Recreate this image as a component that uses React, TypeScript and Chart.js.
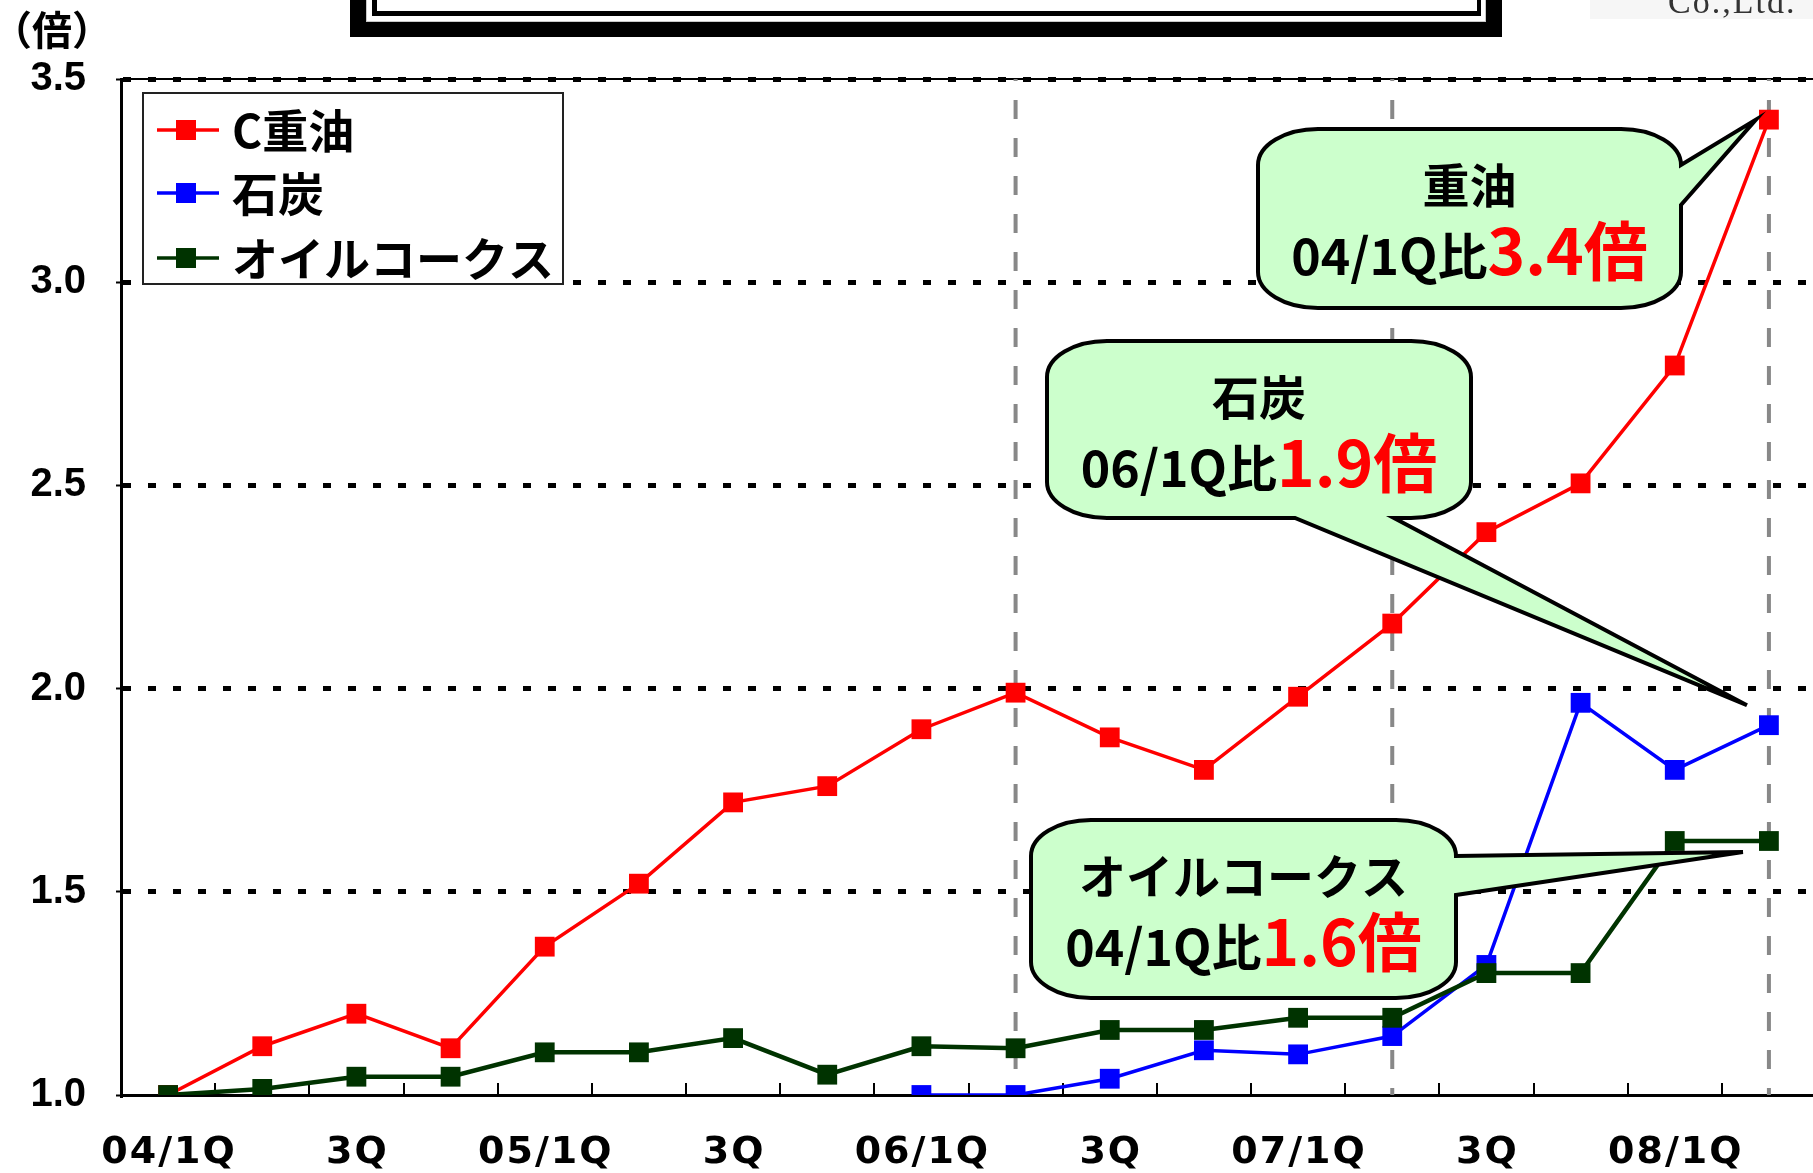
import React, { useEffect, useRef } from 'react';
import { Chart, registerables } from 'chart.js';

Chart.register(...registerables);

// ---------- data ----------
const categories = ['04/1Q', '2Q', '3Q', '4Q', '05/1Q', '2Q', '3Q', '4Q', '06/1Q', '2Q', '3Q', '4Q', '07/1Q', '2Q', '3Q', '4Q', '08/1Q', '2Q'];
const heavyOil = [1.0, 1.12, 1.2, 1.115, 1.365, 1.52, 1.72, 1.76, 1.9, 1.99, 1.88, 1.8, 1.98, 2.16, 2.385, 2.505, 2.795, 3.4];
const coal = [null, null, null, null, null, null, null, null, 1.0, 1.0, 1.04, 1.11, 1.1, 1.145, 1.32, 1.965, 1.8, 1.91];
const oilCoke = [1.0, 1.015, 1.045, 1.045, 1.105, 1.105, 1.14, 1.05, 1.12, 1.115, 1.16, 1.16, 1.19, 1.19, 1.3, 1.3, 1.625, 1.625];
const seriesNames = ['C重油', '石炭', 'オイルコークス'];
const seriesColors = ['#FF0000', '#0000FF', '#003300'];
const yMin = 1.0;
const yMax = 3.5;
const yStep = 0.5;
const dividerIndices = [9, 13, 17];
const unitLabel = '（倍）';
const calloutTitles = ['重油', '石炭', 'オイルコークス'];
const calloutBases = ['04/1Q比', '06/1Q比', '04/1Q比'];
const calloutRatios = ['3.4倍', '1.9倍', '1.6倍'];
const companyText = 'Co.,Ltd.';

// ---------- layout / style (not data) ----------
const CJK = '"Noto Sans CJK JP", "Noto Sans CJK SC", sans-serif';
const calloutBoxes = [
  { L: 1258, T: 129, R: 1681, B: 308, side: 'right', p2: 205, tipDx: -13, tipDy: 0, series: 0, idx: 17 },
  { L: 1047, T: 341, R: 1471, B: 518, side: 'bottom', p1: 1295, p2: 1394, tipDx: -22, tipDy: -20, series: 1, idx: 17 },
  { L: 1031, T: 820, R: 1456, B: 998, side: 'right', p2: 895, tipDx: -26, tipDy: 11, series: 2, idx: 17 },
];
const seriesData = [heavyOil, coal, oilCoke];

function drawCallout(ctx: CanvasRenderingContext2D, b: any, tip: { x: number; y: number }, i: number) {
  const rx = 60, ry = 36;
  const { L, T, R, B } = b;
  ctx.save();
  ctx.beginPath();
  ctx.moveTo(L + rx, T);
  ctx.lineTo(R - rx, T);
  ctx.ellipse(R - rx, T + ry, rx, ry, 0, -Math.PI / 2, 0);
  if (b.side === 'right') {
    ctx.lineTo(tip.x, tip.y);
    ctx.lineTo(R, b.p2);
  }
  ctx.lineTo(R, B - ry);
  ctx.ellipse(R - rx, B - ry, rx, ry, 0, 0, Math.PI / 2);
  if (b.side === 'bottom') {
    ctx.lineTo(b.p2, B);
    ctx.lineTo(tip.x, tip.y);
    ctx.lineTo(b.p1, B);
  }
  ctx.lineTo(L + rx, B);
  ctx.ellipse(L + rx, B - ry, rx, ry, 0, Math.PI / 2, Math.PI);
  ctx.lineTo(L, T + ry);
  ctx.ellipse(L + rx, T + ry, rx, ry, 0, Math.PI, Math.PI * 1.5);
  ctx.closePath();
  ctx.fillStyle = '#CCFFCC';
  ctx.fill();
  ctx.lineWidth = 4;
  ctx.lineJoin = 'miter';
  ctx.strokeStyle = '#000';
  ctx.stroke();

  const cx = (L + R) / 2;
  ctx.fillStyle = '#000';
  ctx.textAlign = 'center';
  ctx.textBaseline = 'middle';
  ctx.font = `bold 47px ${CJK}`;
  ctx.fillText(calloutTitles[i], cx, T + 56);

  const blackFont = `bold 50px ${CJK}`;
  const redFont = `bold 64px ${CJK}`;
  ctx.font = blackFont;
  const w1 = ctx.measureText(calloutBases[i]).width;
  ctx.font = redFont;
  const w2 = ctx.measureText(calloutRatios[i]).width;
  const x0 = cx - (w1 + w2) / 2;
  const base = T + 146;
  ctx.textAlign = 'left';
  ctx.textBaseline = 'alphabetic';
  ctx.font = blackFont;
  ctx.fillStyle = '#000';
  ctx.fillText(calloutBases[i], x0, base);
  ctx.font = redFont;
  ctx.fillStyle = '#FF0000';
  ctx.fillText(calloutRatios[i], x0 + w1, base);
  ctx.restore();
}

const decorPlugin = {
  id: 'decor',
  beforeDatasetsDraw(chart: any) {
    const { ctx, chartArea, scales } = chart;
    const x = scales.x;
    ctx.save();
    // thin top border
    ctx.strokeStyle = '#000';
    ctx.lineWidth = 2;
    ctx.beginPath();
    ctx.moveTo(chartArea.left, chartArea.top);
    ctx.lineTo(chartArea.right, chartArea.top);
    ctx.stroke();
    // inward tick marks between categories
    for (let i = 0; i < categories.length - 1; i++) {
      const px = Math.round(x.getPixelForValue(i + 0.5));
      ctx.beginPath();
      ctx.moveTo(px, chartArea.bottom);
      ctx.lineTo(px, chartArea.bottom - 12);
      ctx.stroke();
    }
    // grey dashed dividers
    ctx.strokeStyle = '#888888';
    ctx.lineWidth = 4;
    ctx.setLineDash([19, 19]);
    ctx.lineDashOffset = 17;
    for (const idx of dividerIndices) {
      const px = x.getPixelForValue(idx);
      ctx.beginPath();
      ctx.moveTo(px, chartArea.top);
      ctx.lineTo(px, chartArea.bottom);
      ctx.stroke();
    }
    ctx.restore();
  },
  afterDatasetsDraw(chart: any) {
    const { ctx, chartArea, scales } = chart;
    const x = scales.x;
    const y = scales.y;
    ctx.save();
    // legend
    const lg = { L: 143, T: 93, R: 563, B: 284 };
    ctx.fillStyle = '#fff';
    ctx.fillRect(lg.L, lg.T, lg.R - lg.L, lg.B - lg.T);
    ctx.strokeStyle = '#222';
    ctx.lineWidth = 2;
    ctx.strokeRect(lg.L, lg.T, lg.R - lg.L, lg.B - lg.T);
    const rows = [130, 193, 258];
    seriesNames.forEach((name, i) => {
      const ry = rows[i];
      ctx.strokeStyle = seriesColors[i];
      ctx.lineWidth = 3.5;
      ctx.beginPath();
      ctx.moveTo(157, ry);
      ctx.lineTo(219, ry);
      ctx.stroke();
      ctx.fillStyle = seriesColors[i];
      ctx.fillRect(176, ry - 10, 20, 20);
      ctx.fillStyle = '#000';
      ctx.font = `bold 46px ${CJK}`;
      ctx.textAlign = 'left';
      ctx.textBaseline = 'middle';
      ctx.fillText(name, 232, ry + 1);
    });
    // callouts
    calloutBoxes.forEach((b, i) => {
      const v = seriesData[b.series][b.idx] as number;
      const tip = { x: x.getPixelForValue(b.idx) + b.tipDx, y: y.getPixelForValue(v) + b.tipDy };
      drawCallout(ctx, b, tip, i);
    });
    // x labels (every other category)
    const sp = 2;
    ctx.fillStyle = '#000';
    ctx.font = 'bold 38px "DejaVu Sans", sans-serif';
    (ctx as any).letterSpacing = `${sp}px`;
    ctx.textAlign = 'left';
    ctx.textBaseline = 'middle';
    categories.forEach((lab, i) => {
      if (i % 2 !== 0) return;
      const w = ctx.measureText(lab).width - sp;
      const px = x.getPixelForValue(i);
      ctx.fillText(lab, px - w / 2, chartArea.bottom + 58);
    });
    (ctx as any).letterSpacing = '0px';
    ctx.restore();
  },
  afterDraw(chart: any) {
    const { ctx } = chart;
    ctx.save();
    // unit label
    ctx.fillStyle = '#000';
    ctx.font = `bold 40px ${CJK}`;
    ctx.textAlign = 'left';
    ctx.textBaseline = 'middle';
    ctx.fillText(unitLabel, -8, 30);
    // title frame (cropped at top)
    ctx.fillStyle = '#000';
    ctx.fillRect(350, 0, 1152, 37);
    ctx.fillStyle = '#c8c8c8';
    ctx.fillRect(366, 0, 1120, 22);
    ctx.fillStyle = '#fff';
    ctx.fillRect(367, 0, 1118, 21);
    ctx.fillStyle = '#000';
    ctx.fillRect(372, 0, 1109, 16);
    ctx.fillStyle = '#fff';
    ctx.fillRect(377, 0, 1100, 11);
    // company text (cropped)
    ctx.fillStyle = '#f6f6f6';
    ctx.fillRect(1590, 0, 230, 19);
    ctx.fillStyle = '#333';
    ctx.font = '34px "Liberation Serif", serif';
    (ctx as any).letterSpacing = '2px';
    ctx.textAlign = 'left';
    ctx.textBaseline = 'alphabetic';
    ctx.fillText(companyText, 1668, 13);
    (ctx as any).letterSpacing = '0px';
    ctx.restore();
  },
};

export default function App() {
  const ref = useRef<HTMLCanvasElement>(null);
  useEffect(() => {
    const canvas = ref.current!;
    const mk = (i: number, data: any[], lw: number, order: number) => ({
      label: seriesNames[i],
      data,
      borderColor: seriesColors[i],
      backgroundColor: seriesColors[i],
      borderWidth: lw,
      pointStyle: 'rect',
      pointRadius: 14,
      pointBorderWidth: 0,
      pointBackgroundColor: seriesColors[i],
      tension: 0,
      order,
    });
    const chart = new Chart(canvas, {
      type: 'line',
      data: {
        labels: categories,
        datasets: [mk(0, heavyOil, 3.5, 2), mk(1, coal, 3.5, 1), mk(2, oilCoke, 4.5, 0)],
      },
      options: {
        animation: false,
        responsive: false,
        devicePixelRatio: 1,
        layout: { padding: { left: 0, top: 79, right: 13, bottom: 0 } },
        plugins: { legend: { display: false }, tooltip: { enabled: false }, title: { display: false } },
        scales: {
          x: {
            type: 'category',
            offset: true,
            ticks: { display: false },
            grid: { display: true, drawOnChartArea: false, drawTicks: false },
            border: { display: true, color: '#000', width: 3 },
            afterFit: (s: any) => { s.height = 78; },
          },
          y: {
            min: yMin,
            max: yMax,
            ticks: {
              stepSize: yStep,
              color: '#000',
              padding: 30,
              font: { family: '"Liberation Sans", Arial, sans-serif', size: 40, weight: 'bold' },
              callback: (v: any) => Number(v).toFixed(1),
            },
            grid: {
              color: (c: any) => (c.tick && Math.abs(c.tick.value - yMin) < 1e-6 ? 'rgba(0,0,0,0)' : '#000'),
              lineWidth: 5,
              drawTicks: true,
              tickLength: 5,
              tickColor: '#000',
              tickWidth: 2,
              tickBorderDash: [],
            },
            border: { display: true, color: '#000', width: 3, dash: [8, 17], dashOffset: 0 },
            afterFit: (s: any) => { s.width = 121; },
          },
        },
      },
      plugins: [decorPlugin],
    } as any);
    return () => chart.destroy();
  }, []);
  return (
    <div style={{ position: 'fixed', left: 0, top: 0, width: 1813, height: 1173, overflow: 'hidden', background: '#fff' }}>
      <canvas ref={ref} width={1830} height={1173} style={{ display: 'block', width: 1830, height: 1173 }} />
    </div>
  );
}
